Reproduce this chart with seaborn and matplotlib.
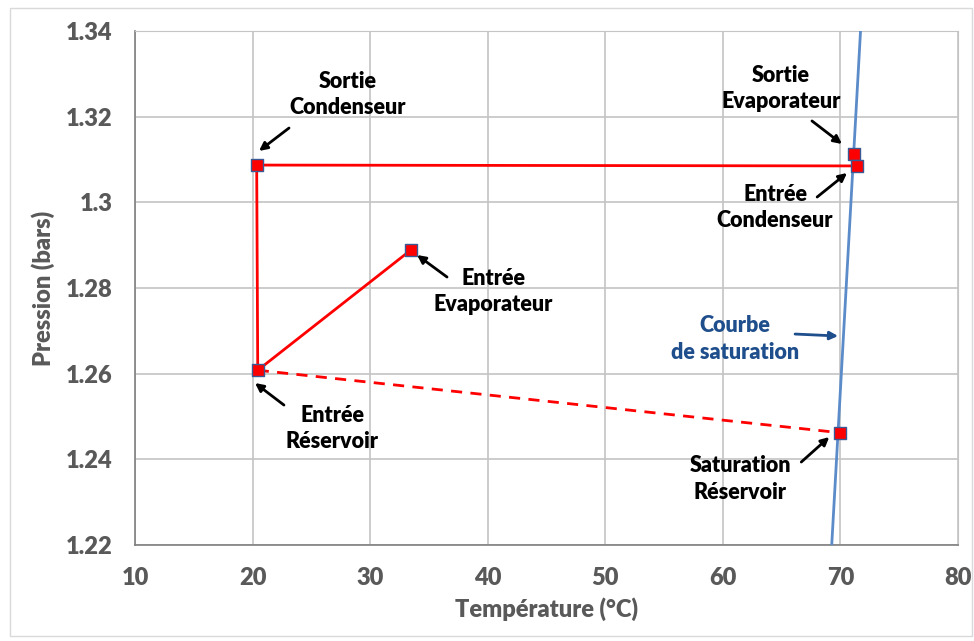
import matplotlib
matplotlib.use("Agg")
import matplotlib.pyplot as plt
import matplotlib.patches as mpatches
import seaborn as sns
import pandas as pd

# cycle points (temperature in °C, pressure in bars)
point_names = ['Sortie Condenseur', 'Entrée Réservoir', 'Entrée Evaporateur',
               'Sortie Evaporateur', 'Entrée Condenseur', 'Saturation Réservoir']
temperature = [20.35, 20.44, 33.48, 71.13, 71.38, 70.0]
pressure = [1.3087, 1.2608, 1.2889, 1.3112, 1.3085, 1.2462]

# solid path and dashed path (by point name)
solid_path = ['Entrée Condenseur', 'Sortie Condenseur', 'Entrée Réservoir', 'Entrée Evaporateur']
dashed_path = ['Entrée Réservoir', 'Saturation Réservoir']

# saturation curve
sat_temperature = [69.26, 71.71]
sat_pressure = [1.22, 1.34]

x_ticks = [10, 20, 30, 40, 50, 60, 70, 80]
y_ticks = [1.22, 1.24, 1.26, 1.28, 1.30, 1.32, 1.34]
y_ticklabels = ['1.22', '1.24', '1.26', '1.28', '1.3', '1.32', '1.34']

df = pd.DataFrame({'name': point_names, 'T': temperature, 'P': pressure}).set_index('name')
df_solid = df.loc[solid_path].reset_index()
df_dashed = df.loc[dashed_path].reset_index()
df_sat = pd.DataFrame({'T': sat_temperature, 'P': sat_pressure})

sns.set_style("white")
plt.rcParams['font.family'] = ['Lato', 'DejaVu Sans']

fig = plt.figure(figsize=(9.74, 6.41), dpi=100)
ax = fig.add_axes([135 / 974, 96 / 641, 823 / 974, 514 / 641])

grid_c = '#C4C4C4'
red = '#FF0000'

sns.lineplot(data=df_sat, x='T', y='P', sort=False, estimator=None, color='#5B8BC9',
             linewidth=2, ax=ax, zorder=3)
sns.lineplot(data=df_solid, x='T', y='P', sort=False, estimator=None, color=red,
             linewidth=2, ax=ax, zorder=4)
sns.lineplot(data=df_dashed, x='T', y='P', sort=False, estimator=None, color=red,
             linewidth=2, linestyle=(0, (4, 3)), ax=ax, zorder=4)
sns.scatterplot(data=df.reset_index(), x='T', y='P', marker='s', s=70, color=red,
                edgecolor='#3A5A95', linewidth=1, ax=ax, zorder=5)

ax.set_xlim(10, 80)
ax.set_ylim(1.22, 1.34)
ax.set_xticks(x_ticks)
ax.set_yticks(y_ticks)
ax.set_yticklabels(y_ticklabels)
ax.grid(True, color=grid_c, linewidth=1.2)
ax.set_axisbelow(True)
ax.tick_params(length=0, labelsize=17, labelcolor='#595959')
ax.tick_params(axis='y', pad=16)
ax.tick_params(axis='x', pad=16)
for lab in ax.get_xticklabels() + ax.get_yticklabels():
    lab.set_fontweight('heavy')
for s in ['top', 'right']:
    ax.spines[s].set_color(grid_c)
for s in ['left', 'bottom']:
    ax.spines[s].set_color('#7F7F7F')
    ax.spines[s].set_linewidth(1.2)

ax.set_xlabel('Température (°C)', fontsize=17, fontweight='heavy', color='#595959', labelpad=6)
ax.set_ylabel('Pression (bars)', fontsize=17, fontweight='heavy', color='#595959', labelpad=8)

# labels: text, text position, arrow tail, arrow head, colour
labels = [
    ('Sortie\nCondenseur', (28.12, 1.3252), (23.10, 1.31735), (20.55, 1.3120), 'black'),
    ('Sortie\nEvaporateur', (64.95, 1.32657), (67.58, 1.3190), (70.13, 1.31362), 'black'),
    ('Entrée\nCondenseur', (64.44, 1.29879), (68.02, 1.30124), (70.56, 1.30685), 'black'),
    ('Entrée\nEvaporateur', (40.45, 1.27918), (36.54, 1.28256), (33.99, 1.2877), 'black'),
    ('Entrée\nRéservoir', (26.76, 1.24719), (22.67, 1.25267), (20.21, 1.25781), 'black'),
    ('Courbe\nde saturation', (61.03, 1.26809), (66.14, 1.26925), (69.80, 1.26879), '#1F4E8C'),
    ('Saturation\nRéservoir', (61.46, 1.2354), (66.67, 1.23937), (69.05, 1.24521), 'black'),
]
for text, pos, tail, head, col in labels:
    ax.text(pos[0], pos[1], text, ha='center', va='center', fontsize=15.5, fontweight='heavy',
            color=col, linespacing=1.32, zorder=6)
    ax.annotate('', xy=head, xytext=tail,
                arrowprops=dict(arrowstyle='-|>', color=col, lw=2, mutation_scale=12,
                                shrinkA=0, shrinkB=0), zorder=6)

fig.patches.append(mpatches.Rectangle((10 / 974, 5 / 641), 962 / 974, 628 / 641,
                                      transform=fig.transFigure, fill=False,
                                      edgecolor='#D9D9D9', linewidth=1))

fig.savefig('out.png', dpi=100)
